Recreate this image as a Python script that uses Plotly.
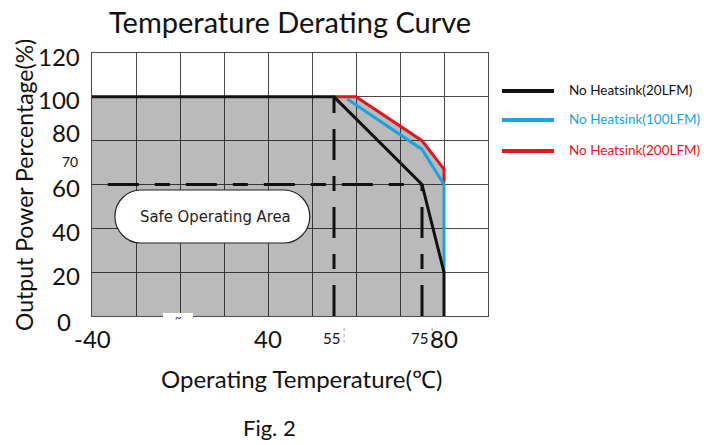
import plotly.graph_objects as go

# ---------------- data ----------------
temp_20lfm = [-40, 55, 75, 80, 80]
power_20lfm = [100, 100, 60, 20, 0]
temp_100lfm = [58, 75, 80, 80]
power_100lfm = [99, 76, 60, 20]
temp_200lfm = [55, 60, 75, 80, 80]
power_200lfm = [100, 100, 80, 67, 61]
safe_area_temp = [-40, 55, 60, 75, 80, 80, -40]
safe_area_power = [100, 100, 100, 80, 67, 0, 0]

series_names = ["No Heatsink(20LFM)", "No Heatsink(100LFM)", "No Heatsink(200LFM)"]
series_colors = ["#111111", "#1aa3e3", "#e8141c"]

x_ticks_big = [-40, 40, 80]
x_ticks_small = [55, 75]
y_ticks = [20, 40, 60, 100, 120]
y_tick_zero = [0]
y_tick_raised = [80]
y_tick_small = [70]

# ---------------- geometry helpers ----------------
W, H = 716, 445
L, R, T, B = 92, 488, 53, 316


def u(t):
    """broken temperature axis: -40..20 compressed, linear from 20 upwards"""
    return (t + 40) / 3.0 if t < 20 else t


def us(ts):
    return [u(t) for t in ts]


def pxx(p):
    return (p - L) / (R - L)


def pxy(p):
    return (B - p) / (B - T)


FONT = "Lato"
NARROW = "DejaVu Sans Condensed, Liberation Sans Narrow, Roboto, sans-serif"
fig = go.Figure()

# shaded safe area (semi-transparent so grid shows through)
fig.add_trace(go.Scatter(x=us(safe_area_temp), y=safe_area_power, fill="toself",
                         fillcolor="rgba(0,0,0,0.27)", line=dict(width=0),
                         mode="lines", hoverinfo="skip", showlegend=False))

# dashed guide lines (long-short dash pattern)
dash_style = dict(color="#111111", width=3, dash="31px,16px,15px,16px")
fig.add_trace(go.Scatter(x=[u(-40) + 3.6, u(75)], y=[60, 60], mode="lines",
                         line=dash_style, showlegend=False, hoverinfo="skip"))
fig.add_trace(go.Scatter(x=[u(55), u(55)], y=[0, 100], mode="lines",
                         line=dash_style, showlegend=False, hoverinfo="skip"))
fig.add_trace(go.Scatter(x=[u(75), u(75)], y=[0, 60], mode="lines",
                         line=dash_style, showlegend=False, hoverinfo="skip"))

# curves (red, blue, then black on top)
fig.add_trace(go.Scatter(x=us(temp_200lfm), y=power_200lfm, mode="lines",
                         line=dict(color=series_colors[2], width=3), name=series_names[2],
                         showlegend=False))
fig.add_trace(go.Scatter(x=us(temp_100lfm), y=power_100lfm, mode="lines",
                         line=dict(color=series_colors[1], width=3), name=series_names[1],
                         showlegend=False))
fig.add_trace(go.Scatter(x=us(temp_20lfm), y=power_20lfm, mode="lines",
                         line=dict(color=series_colors[0], width=3), name=series_names[0],
                         showlegend=False))

shapes = []
annotations = []


def note(**kw):
    kw.setdefault("showarrow", False)
    kw.setdefault("xanchor", "center")
    kw.setdefault("yanchor", "middle")
    annotations.append(kw)


# rounded "Safe Operating Area" label box (pill shape)
x0, x1 = 5.2, 49.5
y0, y1 = 33.3, 57.5
rx = 5.9
k = 0.55
ym = (y0 + y1) / 2
hh = (y1 - y0) / 2
path = (f"M {x0+rx},{y1} L {x1-rx},{y1} "
        f"C {x1-rx+rx*k},{y1} {x1},{ym+hh*k} {x1},{ym} "
        f"C {x1},{ym-hh*k} {x1-rx+rx*k},{y0} {x1-rx},{y0} "
        f"L {x0+rx},{y0} "
        f"C {x0+rx-rx*k},{y0} {x0},{ym-hh*k} {x0},{ym} "
        f"C {x0},{ym+hh*k} {x0+rx-rx*k},{y1} {x0+rx},{y1} Z")
shapes.append(dict(type="path", path=path, xref="x", yref="y",
                   fillcolor="white", line=dict(color="#222222", width=1.2), layer="above"))
note(x=(x0 + x1) / 2 + 0.8, y=ym, xref="x", yref="y", text="Safe Operating Area",
     font=dict(family=NARROW, size=16.5, color="#222222"))

# axis break mark
shapes.append(dict(type="rect", xref="paper", yref="paper",
                   x0=pxx(163), x1=pxx(193), y0=pxy(319), y1=pxy(313),
                   fillcolor="white", line=dict(width=0), layer="above"))
note(x=pxx(178), y=pxy(317), xref="paper", yref="paper", text="~",
     font=dict(family=FONT, size=11, color="#333333"))

# x tick labels
for t in x_ticks_big:
    note(x=u(t), y=0, xref="x", yref="y", yshift=-22, text=str(t),
         font=dict(family=FONT, size=24, color="#111111"))
for t in x_ticks_small:
    note(x=u(t), y=0, xref="x", yref="y", yshift=-22, xshift=-3, text=str(t),
         font=dict(family=FONT, size=15, color="#111111"))
    shapes.append(dict(type="line", xref="x", yref="paper", x0=u(t) + 2.3, x1=u(t) + 2.3,
                       y0=pxy(328), y1=pxy(345), line=dict(color="#aaaaaa", width=1, dash="dot")))

# y tick labels
for v in y_ticks:
    note(x=0, y=v, xref="paper", yref="y", xanchor="right", xshift=-10, yshift=-3,
         text=str(v), font=dict(family=FONT, size=24, color="#111111"))
for v in y_tick_zero:
    note(x=0, y=v, xref="paper", yref="y", xanchor="right", xshift=-19, yshift=-5,
         text=str(v), font=dict(family=FONT, size=24, color="#111111"))
for v in y_tick_raised:
    note(x=0, y=v, xref="paper", yref="y", xanchor="right", xshift=-10, yshift=8,
         text=str(v), font=dict(family=FONT, size=24, color="#111111"))
for v in y_tick_small:
    note(x=0, y=v, xref="paper", yref="y", xanchor="right", xshift=-12, yshift=1,
         text=str(v), font=dict(family=FONT, size=14, color="#111111"))

# legend (custom)
legend_y = [91, 120, 151]
for name, color, ly in zip(series_names, series_colors, legend_y):
    shapes.append(dict(type="line", xref="paper", yref="paper", x0=pxx(502), x1=pxx(554),
                       y0=pxy(ly), y1=pxy(ly), line=dict(color=color, width=4)))
    note(x=pxx(567), y=pxy(ly - 1), xref="paper", yref="paper", xanchor="left",
         text=name, font=dict(family=FONT, size=13.5, color=color))

# titles
note(x=pxx(290), y=pxy(21), xref="paper", yref="paper", text="Temperature Derating Curve",
     font=dict(family=FONT, size=29, color="#111111"))
note(x=pxx(24), y=pxy(185), xref="paper", yref="paper", textangle=-90,
     text="Output Power Percentage(%)", font=dict(family=FONT, size=23, color="#111111"))
note(x=pxx(301), y=pxy(378), xref="paper", yref="paper", text="Operating Temperature(℃)",
     font=dict(family=FONT, size=24, color="#111111"))
note(x=pxx(269), y=pxy(427), xref="paper", yref="paper", text="Fig. 2",
     font=dict(family=FONT, size=22, color="#111111"))

fig.update_layout(
    width=W, height=H,
    margin=dict(l=L, r=W - R, t=T, b=H - B, pad=0),
    paper_bgcolor="white", plot_bgcolor="white",
    showlegend=False,
    shapes=shapes, annotations=annotations,
    xaxis=dict(range=[0, 90], dtick=10, tick0=0, showticklabels=False, ticks="",
               showgrid=True, gridcolor="#4a4a4a", gridwidth=1, zeroline=False,
               showline=True, linecolor="#4a4a4a", linewidth=1, mirror=True, fixedrange=True),
    yaxis=dict(range=[0, 120], dtick=20, tick0=0, showticklabels=False, ticks="",
               showgrid=True, gridcolor="#4a4a4a", gridwidth=1, zeroline=False,
               showline=True, linecolor="#4a4a4a", linewidth=1, mirror=True, fixedrange=True),
)

fig.write_html("out.html", config={"displayModeBar": False},
               post_script="document.body.style.margin='0';document.body.style.overflow='hidden';")
